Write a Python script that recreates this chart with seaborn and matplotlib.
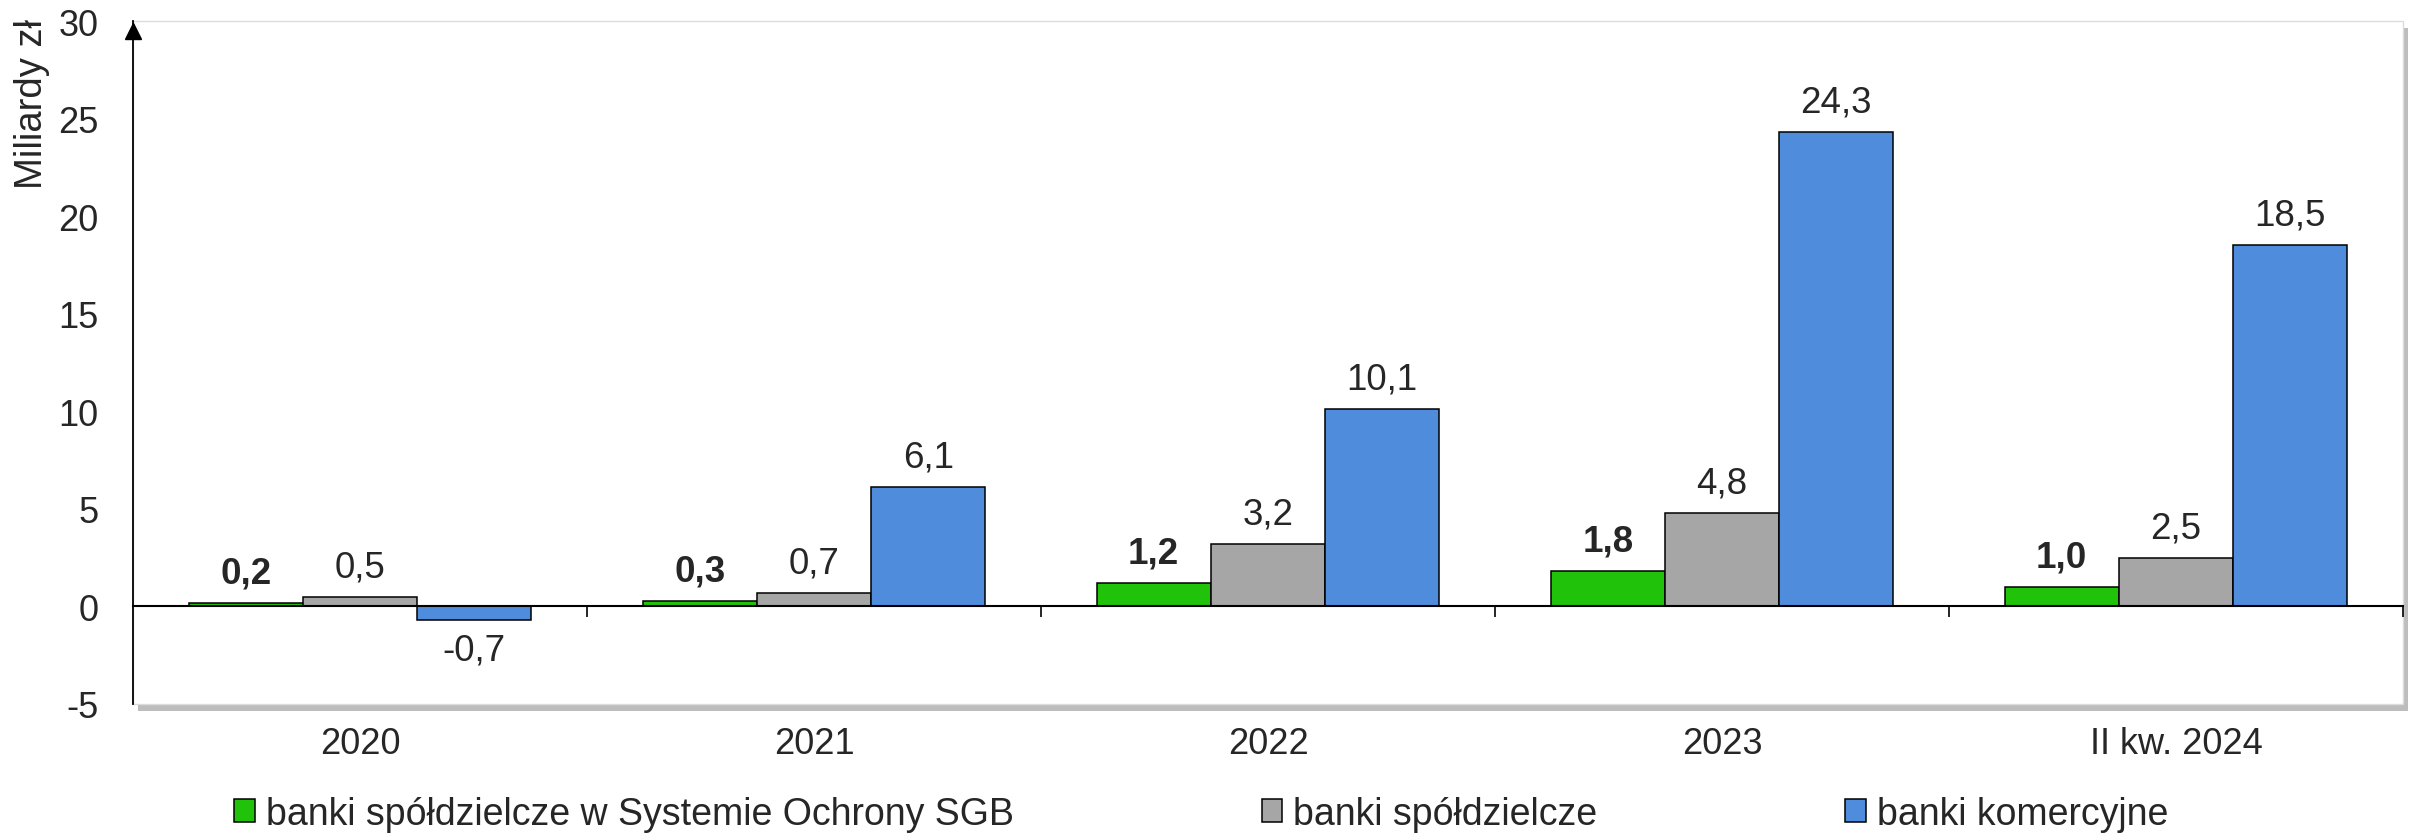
import numpy as np
import pandas as pd
import seaborn as sns
import matplotlib.pyplot as plt
from matplotlib.patches import Rectangle, Patch

# data
categories = ["2020", "2021", "2022", "2023", "II kw. 2024"]
series = ["banki spółdzielcze w Systemie Ochrony SGB", "banki spółdzielcze", "banki komercyjne"]
sgb = [0.2, 0.3, 1.2, 1.8, 1.0]
coop = [0.5, 0.7, 3.2, 4.8, 2.5]
commercial = [-0.7, 6.1, 10.1, 24.3, 18.5]
colors = ["#20C20A", "#A6A6A6", "#4F8CDC"]
yticks = [-5, 0, 5, 10, 15, 20, 25, 30]

df = pd.DataFrame({
    "okres": categories * 3,
    "seria": np.repeat(series, len(categories)),
    "wartosc": sgb + coop + commercial,
})

sns.set_theme(style="white")
plt.rcParams['font.family'] = ['Liberation Sans', 'DejaVu Sans']
FS = 26

W, H = 2417, 837
fig = plt.figure(figsize=(W / 100, H / 100), dpi=100)
x0, x1, y0, y1 = 133 / W, 2403 / W, 1 - 705 / H, 1 - 22 / H
ax = fig.add_axes([x0, y0, x1 - x0, y1 - y0])

# shadow behind the plot frame
fig.add_artist(Rectangle((x0 + 5 / W, y0 - 7 / H), x1 - x0, y1 - y0,
                         transform=fig.transFigure, facecolor="#bdbdbd",
                         edgecolor="none", zorder=-1))
ax.set_facecolor("white")

sns.barplot(data=df, x="okres", y="wartosc", hue="seria", palette=colors,
            saturation=1, width=0.755, edgecolor="black", linewidth=1.1,
            legend=False, ax=ax)

ax.set_ylim(-5, 30)
ax.set_xlim(-0.5, len(categories) - 0.5)
ax.set_xlabel("")
ax.set_ylabel("")

# frame
ax.add_patch(Rectangle((0, 0), 1, 1, transform=ax.transAxes, fill=False,
                       edgecolor="#dcdcdc", lw=1, clip_on=False, zorder=0.5))
for s in ["top", "right"]:
    ax.spines[s].set_visible(False)
ax.spines["left"].set_color("black")
ax.spines["left"].set_linewidth(1.3)
ax.spines["bottom"].set_position(("data", 0))
ax.spines["bottom"].set_color("black")
ax.spines["bottom"].set_linewidth(1.5)
ax.plot(0, 0.985, marker="^", color="black", markersize=11,
        transform=ax.transAxes, clip_on=False)

ax.set_yticks(yticks)
ax.set_yticklabels([str(t) for t in yticks], fontsize=FS)
ax.tick_params(axis="y", length=0, pad=25)

ax.set_xticks(range(len(categories)))
ax.set_xticklabels(categories, fontsize=FS)
ax.set_xticks(np.arange(len(categories)) + 0.5, minor=True)
ax.tick_params(axis="x", which="major", length=0, pad=86)
ax.tick_params(axis="x", which="minor", length=8, width=1.2,
               direction="out", color="black", bottom=True)

for i, (cont, vals) in enumerate(zip(ax.containers, [sgb, coop, commercial])):
    labels = [f"{v:.1f}".replace(".", ",") for v in vals]
    ax.bar_label(cont, labels=labels, padding=9, fontsize=FS + 0.5,
                 fontweight="bold" if i == 0 else "normal")

fig.text(32 / W, 1 - 104 / H, "Miliardy zł", rotation=90, ha="center",
         va="center", fontsize=27.5)

handles = [Patch(facecolor=c, edgecolor="black", lw=1.1) for c in colors]
fig.legend(handles, series, loc="center", bbox_to_anchor=(0.497, 1 - 815 / H),
           ncol=3, frameon=False, fontsize=27, handlelength=0.55,
           handleheight=0.55, handletextpad=0.3, columnspacing=6.6)

fig.savefig("out.png", dpi=100)
